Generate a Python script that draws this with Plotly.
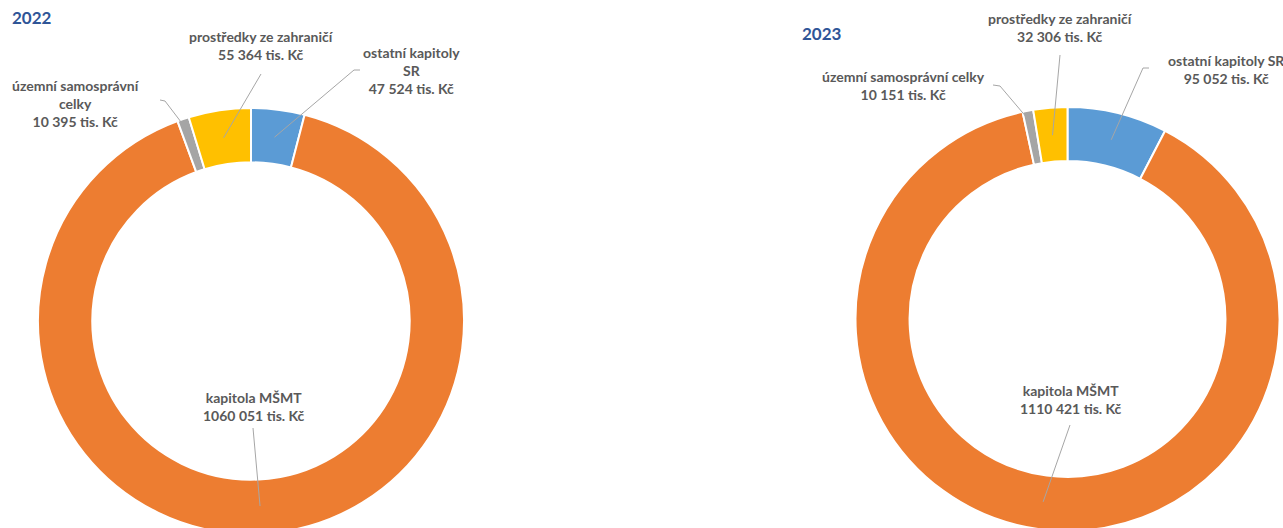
import math
import plotly.graph_objects as go

# ---------------- data ----------------
categories = ["ostatní kapitoly SR", "kapitola MŠMT", "územní samosprávní celky", "prostředky ze zahraničí"]
years = ["2022", "2023"]
values_2022 = [47524, 1060051, 10395, 55364]
values_2023 = [95052, 1110421, 10151, 32306]
labels_2022 = ["ostatní kapitoly<br>SR", "kapitola MŠMT", "územní samosprávní<br>celky", "prostředky ze zahraničí"]
labels_2023 = ["ostatní kapitoly SR", "kapitola MŠMT", "územní samosprávní celky", "prostředky ze zahraničí"]
unit = "tis. Kč"

# ---------------- style / layout ----------------
W, H = 1283, 540             # bottom few pixels fall outside the 528 px window, as in the original
colors = ["#5B9BD5", "#ED7D31", "#A5A5A5", "#FFC000"]
text_color = "#595959"
title_color = "#2F5597"
line_color = "#A6A6A6"
FONT = "Lato"
HOLE = 0.745
# positions below are in screen pixels
pie_center = [(251, 321), (1067.5, 319)]
pie_radius = [213, 212]
title_pos = [(10, 18), (800, 33)]
label_pos = [
    [(411, 70), (254, 406), (76, 103), (261, 46)],
    [(1226, 69), (1071, 399), (903, 86), (1060, 27)],
]
leader_pts = [
    [[(360, 70), (354, 70)], [(253, 428)], [(160, 100), (165, 101)], [(261, 74)]],
    [[(1149, 68), (1143, 68)], [(1070, 425)], [(993, 85), (1000, 86)], [(1060, 55)]],
]
anchor_frac = [0.87, 0.87, 0.95, 0.87]


def fmt(v):
    return f"{v // 1000} {v % 1000:03d}"


def px(x, y):
    return x / W, 1 - y / H


fig = go.Figure()
shapes = []
annotations = []
all_values = [values_2022, values_2023]
all_labels = [labels_2022, labels_2023]

for i, vals in enumerate(all_values):
    cx, cy = pie_center[i]
    r = pie_radius[i]
    fx, fy = cx, H - cy
    fig.add_trace(go.Pie(
        labels=categories, values=vals, sort=False, direction="clockwise", rotation=0,
        hole=HOLE, textinfo="none", hoverinfo="label+value",
        marker=dict(colors=colors, line=dict(color="white", width=2)),
        domain=dict(x=[(fx - r) / W, (fx + r) / W], y=[max(0, (fy - r) / H), min(1, (fy + r) / H)]),
        showlegend=False,
    ))
    total = sum(vals)
    cum = 0
    for k, v in enumerate(vals):
        mid = (cum + v / 2) / total * 2 * math.pi
        cum += v
        rr = r * anchor_frac[k]
        ax_, ay_ = cx + rr * math.sin(mid), cy - rr * math.cos(mid)
        pts = leader_pts[i][k] + [(ax_, ay_)]
        path = "M " + " L ".join(f"{px(x, y)[0]},{px(x, y)[1]}" for x, y in pts)
        shapes.append(dict(type="path", path=path, xref="paper", yref="paper",
                           line=dict(color=line_color, width=1)))
        lx, ly = label_pos[i][k]
        annotations.append(dict(
            x=px(lx, ly)[0], y=px(lx, ly)[1], xref="paper", yref="paper",
            text=f"<b>{all_labels[i][k]}<br>{fmt(v)} {unit}</b>", showarrow=False,
            xanchor="center", yanchor="middle", align="center",
            font=dict(family=FONT, size=14, color=text_color),
        ))
    tx, ty = title_pos[i]
    annotations.append(dict(
        x=px(tx, ty)[0], y=px(tx, ty)[1], xref="paper", yref="paper",
        text=f"<b>{years[i]}</b>", showarrow=False, xanchor="left", yanchor="middle",
        font=dict(family=FONT, size=17, color=title_color),
    ))

fig.update_layout(
    width=W, height=H, margin=dict(l=0, r=0, t=0, b=0),
    paper_bgcolor="white", plot_bgcolor="white",
    shapes=shapes, annotations=annotations,
    font=dict(family=FONT, color=text_color),
)
fig.write_html(
    "out.html",
    config={"displayModeBar": False},
    post_script="document.body.style.margin='0px';"
                "document.documentElement.style.overflow='hidden';"
                "document.body.style.overflow='hidden';",
)
